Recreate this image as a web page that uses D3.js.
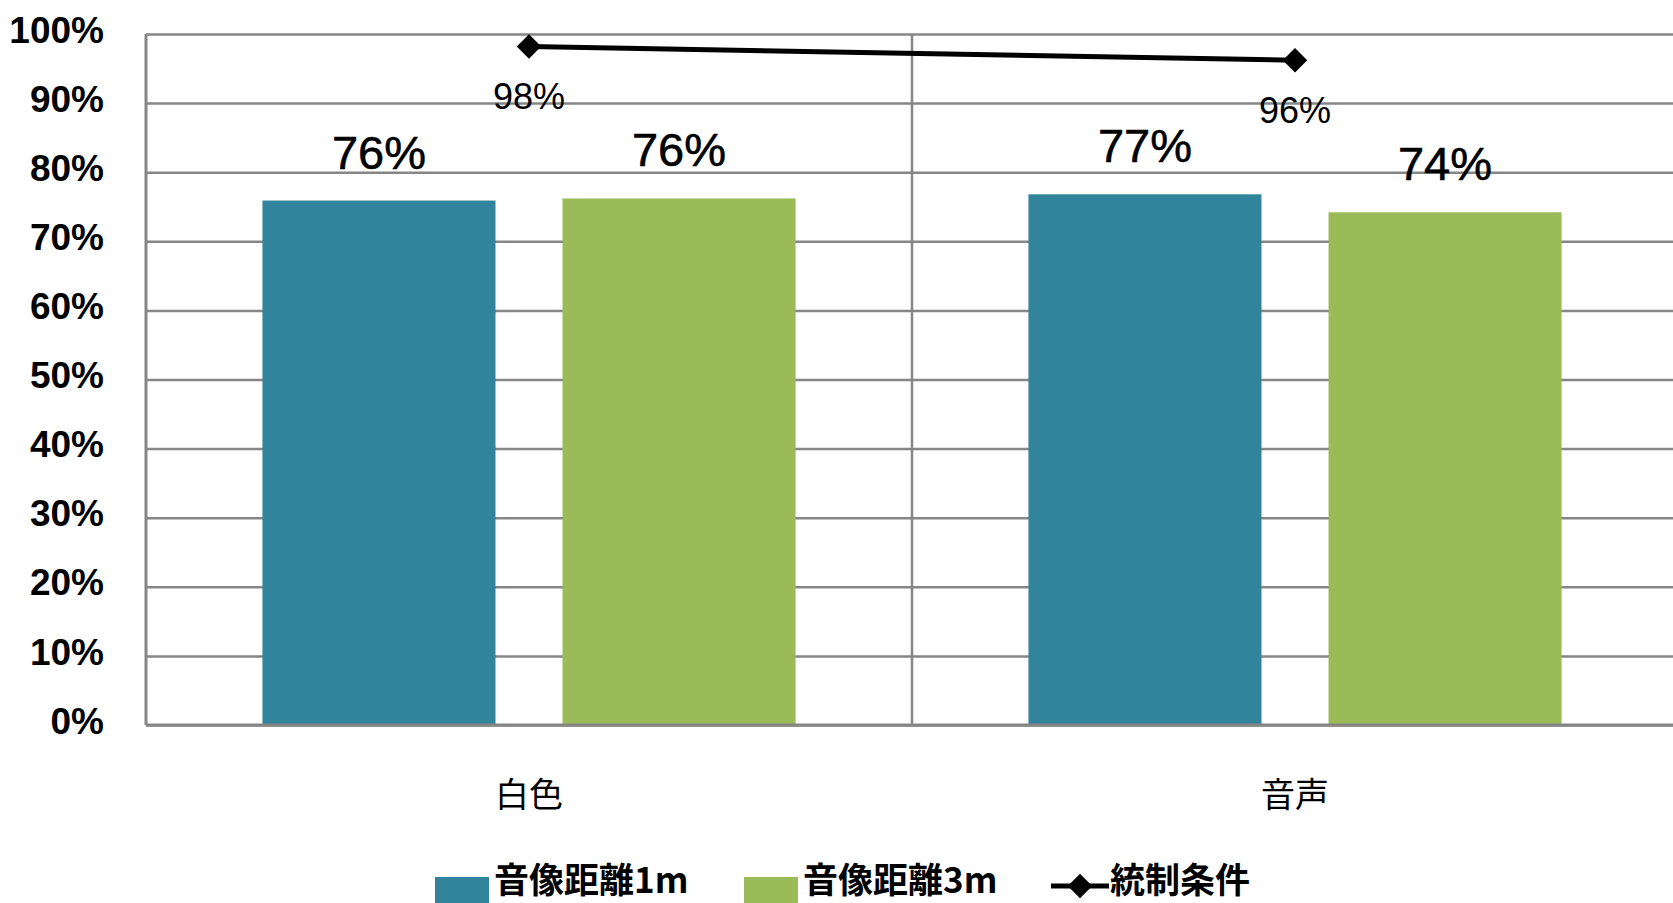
<!DOCTYPE html>
<html>
<head>
<meta charset="utf-8">
<script src="https://cdn.jsdelivr.net/npm/d3@7"></script>
<style>
  body { margin: 0; background: #fff; }
  svg { display: block; }
</style>
</head>
<body>
<svg id="chart" width="1673" height="903"></svg>
<script>
// data
const categories = ['白色', '音声'];
const seriesNames = ['音像距離1m', '音像距離3m'];
const dist1m = [0.759, 0.768];
const dist3m = [0.762, 0.742];
const control = [0.982, 0.962];
const controlName = '統制条件';
const barLabels1m = ['76%', '77%'];
const barLabels3m = ['76%', '74%'];
const controlLabels = ['98%', '96%'];
const yTicks = [0, 0.1, 0.2, 0.3, 0.4, 0.5, 0.6, 0.7, 0.8, 0.9, 1.0];

const colors = ['#31849b', '#9bbb59'];
const W = 1673, H = 903;
const mLeft = 146, mTop = 34, mBottom = 725;
const catW = 766;

const svg = d3.select('#chart');

const x0 = d3.scaleBand()
  .domain(categories)
  .range([mLeft, mLeft + catW * categories.length]);

const x1 = d3.scaleBand()
  .domain(seriesNames)
  .range([0, catW])
  .paddingInner(0.2233)
  .paddingOuter(0.388);

const y = d3.scaleLinear().domain([0, 1]).range([mBottom, mTop]);

// horizontal gridlines
const grid = svg.append('g')
  .attr('transform', `translate(${mLeft},0)`)
  .call(d3.axisLeft(y).tickValues(yTicks).tickSize(-(W - mLeft)).tickFormat(''));
grid.select('.domain').remove();
grid.selectAll('line').attr('stroke', '#868686').attr('stroke-width', 2.5);

// vertical separators between categories
const seps = [x0('音声')];
svg.selectAll('line.sep')
  .data(seps)
  .enter().append('line')
  .attr('class', 'sep')
  .attr('x1', d => d).attr('x2', d => d)
  .attr('y1', y(1)).attr('y2', y(0))
  .attr('stroke', '#868686').attr('stroke-width', 2.5);

// left axis line
svg.append('line')
  .attr('x1', mLeft).attr('x2', mLeft).attr('y1', y(1)).attr('y2', y(0))
  .attr('stroke', '#868686').attr('stroke-width', 3);

// y tick labels
const yAxis = svg.append('g')
  .attr('transform', `translate(${mLeft},0)`)
  .call(d3.axisLeft(y).tickValues(yTicks).tickSize(0).tickPadding(42).tickFormat(d3.format('.0%')));
yAxis.select('.domain').remove();
yAxis.selectAll('text')
  .attr('font-family', 'Liberation Sans, Arial, sans-serif')
  .attr('font-size', 37)
  .attr('font-weight', 'bold')
  .attr('fill', '#000')
  .attr('dy', '0.22em');

// bars
const barData = [];
categories.forEach((c, i) => {
  barData.push({ cat: c, s: seriesNames[0], v: dist1m[i], label: barLabels1m[i], color: colors[0] });
  barData.push({ cat: c, s: seriesNames[1], v: dist3m[i], label: barLabels3m[i], color: colors[1] });
});

svg.selectAll('rect.bar')
  .data(barData)
  .enter().append('rect')
  .attr('class', 'bar')
  .attr('x', d => x0(d.cat) + x1(d.s))
  .attr('width', x1.bandwidth())
  .attr('y', d => y(d.v))
  .attr('height', d => y(0) - y(d.v))
  .attr('fill', d => d.color);

// bottom axis line
svg.append('line')
  .attr('x1', mLeft).attr('x2', W).attr('y1', y(0)).attr('y2', y(0))
  .attr('stroke', '#868686').attr('stroke-width', 3);

svg.selectAll('text.barlabel')
  .data(barData)
  .enter().append('text')
  .attr('class', 'barlabel')
  .attr('x', d => x0(d.cat) + x1(d.s) + x1.bandwidth() / 2)
  .attr('y', d => y(d.v) - 32)
  .attr('text-anchor', 'middle')
  .attr('font-family', 'Liberation Sans, Arial, sans-serif')
  .attr('font-size', 47)
  .attr('fill', '#000')
  .attr('stroke', '#000')
  .attr('stroke-width', 0.6)
  .text(d => d.label);

// control line
const cx = c => x0(c) + x0.bandwidth() / 2;
const lineData = categories.map((c, i) => ({ cat: c, v: control[i], label: controlLabels[i] }));

svg.append('path')
  .datum(lineData)
  .attr('fill', 'none')
  .attr('stroke', '#000')
  .attr('stroke-width', 5)
  .attr('d', d3.line().x(d => cx(d.cat)).y(d => y(d.v)));

const diamond = d3.symbol().type(d3.symbolSquare).size(300);
svg.selectAll('path.marker')
  .data(lineData)
  .enter().append('path')
  .attr('class', 'marker')
  .attr('d', diamond)
  .attr('transform', d => `translate(${cx(d.cat)},${y(d.v)}) rotate(45)`)
  .attr('fill', '#000');

svg.selectAll('text.linelabel')
  .data(lineData)
  .enter().append('text')
  .attr('class', 'linelabel')
  .attr('x', d => cx(d.cat))
  .attr('y', d => y(d.v) + 63)
  .attr('text-anchor', 'middle')
  .attr('font-family', 'Liberation Sans, Arial, sans-serif')
  .attr('font-size', 36)
  .attr('fill', '#000')
  .text(d => d.label);

// category labels
svg.selectAll('text.cat')
  .data(categories)
  .enter().append('text')
  .attr('class', 'cat')
  .attr('x', d => cx(d))
  .attr('y', 807)
  .attr('text-anchor', 'middle')
  .attr('font-family', 'Noto Sans CJK JP, sans-serif')
  .attr('font-size', 34)
  .attr('fill', '#000')
  .text(d => d);

// legend
const legend = svg.append('g');
const legendItems = [
  { name: seriesNames[0], type: 'rect', color: colors[0], x: 435 },
  { name: seriesNames[1], type: 'rect', color: colors[1], x: 744 },
  { name: controlName, type: 'line', color: '#000', x: 1051 }
];
legendItems.forEach(it => {
  if (it.type === 'rect') {
    legend.append('rect')
      .attr('x', it.x).attr('y', 877).attr('width', 54).attr('height', 30)
      .attr('fill', it.color);
  } else {
    legend.append('line')
      .attr('x1', it.x).attr('x2', it.x + 58).attr('y1', 886).attr('y2', 886)
      .attr('stroke', '#000').attr('stroke-width', 5);
    legend.append('path')
      .attr('d', diamond)
      .attr('transform', `translate(${it.x + 29},886) rotate(45)`)
      .attr('fill', '#000');
  }
  legend.append('text')
    .attr('x', it.x + 59)
    .attr('y', 893)
    .attr('font-family', 'Noto Sans CJK JP, sans-serif')
    .attr('font-size', 35)
    .attr('font-weight', 'bold')
    .attr('fill', '#000')
    .text(it.name);
});
</script>
</body>
</html>
